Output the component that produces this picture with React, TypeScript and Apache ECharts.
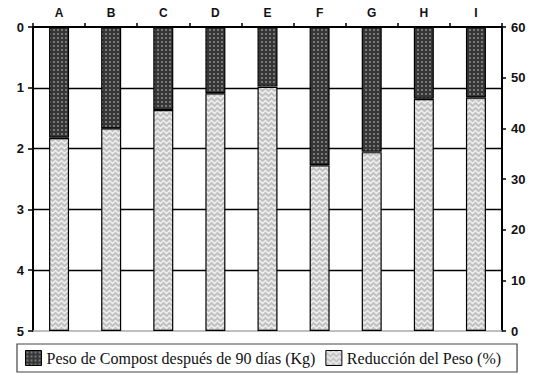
import React, { useEffect, useRef } from "react";
import * as echarts from "echarts";

const categories = ["A", "B", "C", "D", "E", "F", "G", "H", "I"];
// Peso de Compost después de 90 días (Kg) — left axis (inverted)
const compostWeight = [1.82, 1.67, 1.37, 1.09, 0.98, 2.27, 2.05, 1.18, 1.16];
// Reducción del Peso (%) — right axis
const weightReduction = [38.1, 40.0, 43.6, 46.9, 48.2, 32.7, 35.3, 45.8, 46.1];
const leftTicks = { min: 0, max: 5, interval: 1 };
const rightTicks = { min: 0, max: 60, interval: 10 };
const seriesNames = ["Peso de Compost después de 90 días (Kg)", "Reducción del Peso (%)"];

function makeDots(): HTMLCanvasElement {
  const c = document.createElement("canvas");
  c.width = 4;
  c.height = 4;
  const ctx = c.getContext("2d")!;
  ctx.fillStyle = "#363636";
  ctx.fillRect(0, 0, 4, 4);
  ctx.fillStyle = "#787878";
  ctx.fillRect(1, 1, 2, 2);
  return c;
}

function makeZigzag(): HTMLCanvasElement {
  const c = document.createElement("canvas");
  c.width = 6;
  c.height = 5;
  const ctx = c.getContext("2d")!;
  ctx.fillStyle = "#c2c2c2";
  ctx.fillRect(0, 0, 6, 5);
  ctx.strokeStyle = "#f0f0f0";
  ctx.lineWidth = 1.4;
  for (let y0 = -5; y0 <= 10; y0 += 5) {
    ctx.beginPath();
    ctx.moveTo(-1.5, y0 + 3.5);
    ctx.lineTo(1.5, y0 + 0.5);
    ctx.lineTo(4.5, y0 + 3.5);
    ctx.lineTo(7.5, y0 + 0.5);
    ctx.stroke();
  }
  return c;
}

export default function App() {
  const ref = useRef<HTMLDivElement>(null);
  useEffect(() => {
    if (!ref.current) return;
    const chart = echarts.init(ref.current, null, { renderer: "svg" });
    const dots = makeDots();
    const zig = makeZigzag();
    const darkFill: any = { image: dots.toDataURL(), repeat: "repeat", imageWidth: 4, imageHeight: 4 };
    const lightFill: any = { image: zig.toDataURL(), repeat: "repeat", imageWidth: 6, imageHeight: 5 };
    const labelStyle = {
      fontFamily: "Liberation Sans, Arial, sans-serif",
      fontWeight: "bold" as const,
      fontSize: 12,
      color: "#111",
    };
    chart.setOption({
      animation: false,
      backgroundColor: "#fff",
      grid: { left: 33, right: 42, top: 27, bottom: 43 },
      xAxis: [
        {
          type: "category",
          position: "top",
          data: categories,
          boundaryGap: true,
          axisLine: { show: true, lineStyle: { color: "#000", width: 2 } },
          axisTick: { show: true, length: 4, lineStyle: { color: "#000", width: 1.5 } },
          axisLabel: { ...labelStyle, margin: 8 },
          splitLine: { show: false },
        },
        {
          type: "category",
          position: "bottom",
          data: categories,
          axisLine: { show: true, lineStyle: { color: "#aaa", width: 1.5 } },
          axisTick: { show: false },
          axisLabel: { show: false },
          splitLine: { show: false },
        },
      ],
      yAxis: [
        {
          type: "value",
          position: "left",
          inverse: true,
          min: leftTicks.min,
          max: leftTicks.max,
          interval: leftTicks.interval,
          axisLine: { show: true, lineStyle: { color: "#000", width: 2 } },
          axisTick: { show: true, length: 5, lineStyle: { color: "#000", width: 1.5 } },
          axisLabel: { ...labelStyle, fontSize: 13, margin: 9 },
          splitLine: {
            show: true,
            showMinLine: false,
            showMaxLine: false,
            lineStyle: { color: "#000", width: 1.3 },
          },
        },
        {
          type: "value",
          position: "right",
          min: rightTicks.min,
          max: rightTicks.max,
          interval: rightTicks.interval,
          axisLine: { show: true, lineStyle: { color: "#000", width: 2 } },
          axisTick: { show: true, length: 4, lineStyle: { color: "#000", width: 1.5 } },
          axisLabel: { ...labelStyle, fontSize: 13, margin: 9 },
          splitLine: { show: false },
        },
      ],
      legend: {
        bottom: 2,
        left: 17,
        orient: "horizontal",
        icon: "rect",
        itemWidth: 16,
        itemHeight: 15,
        itemGap: 10,
        padding: [6, 16, 6, 8],
        borderColor: "#444",
        borderWidth: 1.2,
        itemStyle: { borderColor: "#000", borderWidth: 1 },
        textStyle: { fontFamily: "Liberation Serif, Times New Roman, serif", fontSize: 16, color: "#111" },
        data: seriesNames,
      },
      series: [
        {
          name: seriesNames[0],
          type: "bar",
          xAxisIndex: 0,
          yAxisIndex: 0,
          data: compostWeight,
          barWidth: 20,
          barGap: "-100%",
          itemStyle: { color: darkFill, borderColor: "#000", borderWidth: 1.2 },
        },
        {
          name: seriesNames[1],
          type: "bar",
          xAxisIndex: 0,
          yAxisIndex: 1,
          data: weightReduction,
          barWidth: 20,
          barGap: "-100%",
          itemStyle: { color: lightFill, borderColor: "#000", borderWidth: 1.2 },
        },
      ],
    });
    return () => chart.dispose();
  }, []);
  return <div ref={ref} style={{ position: "absolute", left: 0, top: 0, width: 544, height: 374 }} />;
}
